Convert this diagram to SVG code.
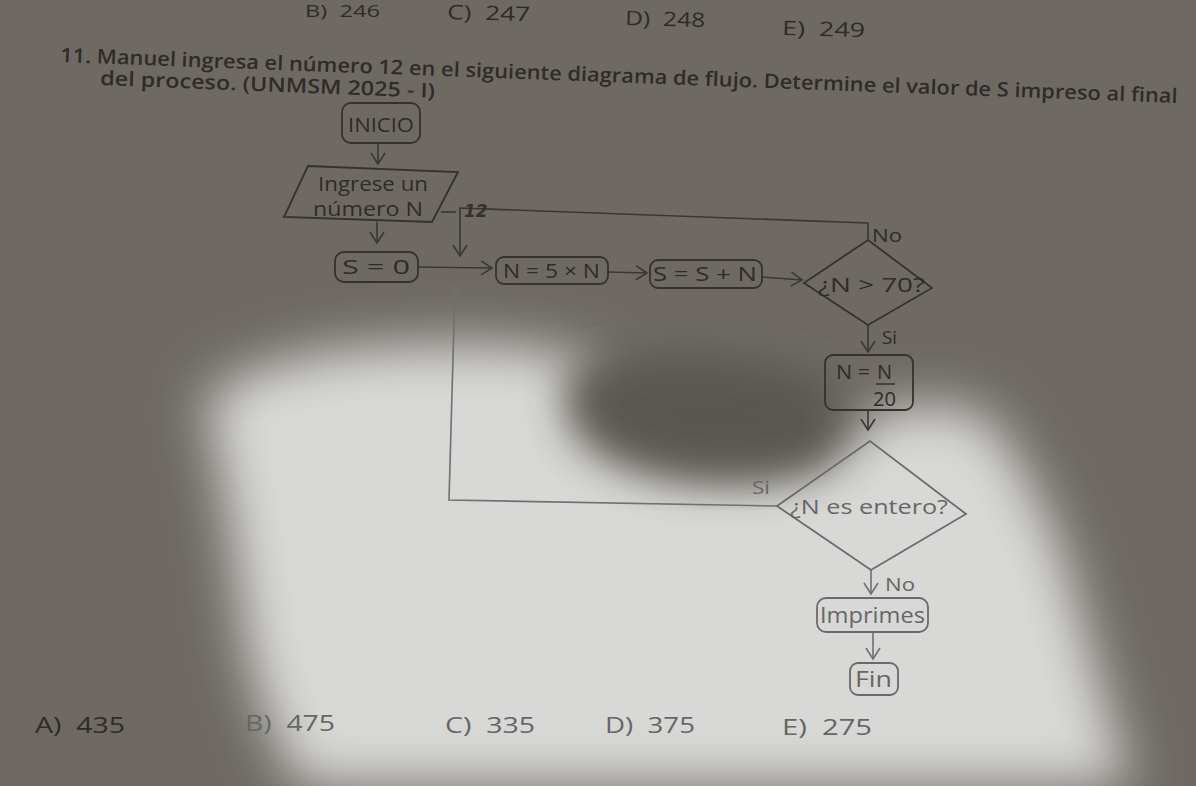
<svg xmlns="http://www.w3.org/2000/svg" width="1196" height="786" viewBox="0 0 1196 786">
<defs>
<filter id="blur" x="-20%" y="-20%" width="140%" height="140%"><feGaussianBlur stdDeviation="26"/></filter>
<filter id="blur2" x="-30%" y="-30%" width="160%" height="160%"><feGaussianBlur stdDeviation="22"/></filter>
<marker id="ah" markerWidth="16" markerHeight="16" refX="12" refY="8" orient="auto" markerUnits="userSpaceOnUse">
<path d="M1,1 L12,8 L1,15" fill="none" stroke="#3a3733" stroke-width="1.6"/>
</marker>
<marker id="ahl" markerWidth="16" markerHeight="16" refX="12" refY="8" orient="auto" markerUnits="userSpaceOnUse">
<path d="M1,1 L12,8 L1,15" fill="none" stroke="#707070" stroke-width="1.6"/>
</marker>
<style>
.t{font-family:"Open Sans","Liberation Sans",sans-serif;fill:#2e2b28;}
.tl{font-family:"Open Sans","Liberation Sans",sans-serif;fill:#666;}
.box{fill:none;stroke:#35322e;stroke-width:1.8;}
.boxl{fill:none;stroke:#6a6a6a;stroke-width:1.8;}
.ln{fill:none;stroke:#3a3733;stroke-width:1.6;}
.lnl{fill:none;stroke:#707070;stroke-width:1.6;}
</style>
</defs>
<rect width="1196" height="786" fill="#6e6a63"/>
<g filter="url(#blur)">
<path d="M205,400 Q260,350 420,345 Q540,340 600,365 L570,420 Q640,490 770,475 Q845,462 865,420 Q930,390 990,420 Q1035,480 1065,560 Q1100,680 1130,786 L300,786 Q250,700 240,600 Q225,480 205,400 Z" fill="#d8d8d6"/>
</g>
<g filter="url(#blur2)">
<path d="M575,372 Q700,340 820,378 Q865,420 815,465 Q700,490 610,450 Q555,410 575,372 Z" fill="#5a564f"/>
</g>

<g id="header">
<text class="t" x="305" y="17" font-size="17" textLength="75" lengthAdjust="spacingAndGlyphs" xml:space="preserve">B)  246</text>
<text class="t" x="447" y="19" font-size="20" textLength="83" lengthAdjust="spacingAndGlyphs" transform="rotate(1.5 447 19)" xml:space="preserve">C)  247</text>
<text class="t" x="625" y="25" font-size="20" textLength="80" lengthAdjust="spacingAndGlyphs" transform="rotate(1.5 625 25)" xml:space="preserve">D)  248</text>
<text class="t" x="782" y="35" font-size="20" textLength="83" lengthAdjust="spacingAndGlyphs" transform="rotate(1.5 782 35)" xml:space="preserve">E)  249</text>
<text class="t" x="60" y="62" font-size="20" font-weight="600" textLength="1118" lengthAdjust="spacingAndGlyphs" transform="rotate(2.1 60 62)">11. Manuel ingresa el número 12 en el siguiente diagrama de flujo. Determine el valor de S impreso al final</text>
<text class="t" x="100" y="85" font-size="20" font-weight="600" textLength="335" lengthAdjust="spacingAndGlyphs" transform="rotate(2.2 100 85)">del proceso. (UNMSM 2025 - I)</text>
</g>

<g id="connectors">
<line class="ln" x1="378" y1="143" x2="378" y2="164" marker-end="url(#ah)"/>
<line class="ln" x1="377" y1="222" x2="377" y2="243" marker-end="url(#ah)"/>
<line class="ln" x1="418" y1="267" x2="492" y2="268" marker-end="url(#ah)"/>
<line class="ln" x1="608" y1="272" x2="647" y2="273" marker-end="url(#ah)"/>
<line class="ln" x1="762" y1="277" x2="802" y2="280" marker-end="url(#ah)"/>
<polyline class="ln" points="868,240 868,223 460,208 460,256" marker-end="url(#ah)"/>
<line class="ln" x1="441" y1="212" x2="456" y2="212"/>
<line class="ln" x1="868" y1="325" x2="868" y2="352" marker-end="url(#ah)"/>
<line class="ln" x1="868" y1="410" x2="868" y2="430" marker-end="url(#ah)"/>
<polyline class="lnl" points="777,506 449,500 455,287" marker-end="url(#ahl)"/>
<line class="lnl" x1="871" y1="570" x2="871" y2="594" marker-end="url(#ahl)"/>
<line class="lnl" x1="873" y1="632" x2="873" y2="659" marker-end="url(#ahl)"/>
<text class="t" x="872" y="242" font-size="19" textLength="30" lengthAdjust="spacingAndGlyphs">No</text>
<text class="t" x="882" y="344" font-size="19" textLength="15" lengthAdjust="spacingAndGlyphs">Si</text>
<text class="tl" x="752" y="494" font-size="19" textLength="18" lengthAdjust="spacingAndGlyphs">Si</text>
<text class="tl" x="885" y="591" font-size="19" textLength="30" lengthAdjust="spacingAndGlyphs">No</text>
<text x="464" y="217" font-size="17" font-family="'DejaVu Sans',sans-serif" fill="#34312d" font-style="italic" font-weight="bold">12</text>
</g>

<g id="inicio">
<rect class="box" x="342" y="103" width="78" height="40" rx="9"/>
<text class="t" x="348" y="132" font-size="20" textLength="66" lengthAdjust="spacingAndGlyphs">INICIO</text>
</g>
<g id="ingrese">
<polygon class="box" points="308,166 458,172 432,222 284,217"/>
<text class="t" x="318" y="191" font-size="20" textLength="110" lengthAdjust="spacingAndGlyphs">Ingrese un</text>
<text class="t" x="313" y="216" font-size="20" textLength="110" lengthAdjust="spacingAndGlyphs">número N</text>
</g>
<g id="s0">
<rect class="box" x="335" y="252" width="83" height="30" rx="9"/>
<text class="t" x="342" y="274" font-size="20" textLength="68" lengthAdjust="spacingAndGlyphs" xml:space="preserve">S = 0</text>
</g>
<g id="n5n">
<rect class="box" x="496" y="257" width="112" height="27" rx="8"/>
<text class="t" x="503" y="278" font-size="20" textLength="97" lengthAdjust="spacingAndGlyphs">N = 5 × N</text>
</g>
<g id="ssn">
<rect class="box" x="650" y="260" width="112" height="28" rx="8"/>
<text class="t" x="653" y="281" font-size="20" textLength="104" lengthAdjust="spacingAndGlyphs">S = S + N</text>
</g>
<g id="n70">
<polygon class="box" points="804,283 868,240 932,288 868,325"/>
<text class="t" x="818" y="292" font-size="20" textLength="107" lengthAdjust="spacingAndGlyphs">¿N &gt; 70?</text>
</g>
<g id="n20">
<rect class="box" x="825" y="355" width="88" height="55" rx="8"/>
<text class="t" x="836" y="379" font-size="20" textLength="34" lengthAdjust="spacingAndGlyphs">N =</text>
<text class="t" x="877" y="379" font-size="20">N</text>
<line class="ln" x1="876" y1="384" x2="895" y2="384"/>
<text class="t" x="873" y="406" font-size="20">20</text>
</g>
<g id="entero">
<polygon class="boxl" points="777,506 870,441 966,514 871,570"/>
<text class="tl" x="790" y="514" font-size="20" textLength="158" lengthAdjust="spacingAndGlyphs">¿N es entero?</text>
</g>
<g id="imprimes">
<rect class="boxl" x="817" y="598" width="111" height="34" rx="9"/>
<text class="tl" x="820" y="623" font-size="21" textLength="105" lengthAdjust="spacingAndGlyphs">Imprimes</text>
</g>
<g id="fin">
<rect class="boxl" x="850" y="663" width="48" height="32" rx="8"/>
<text class="tl" x="855" y="687" font-size="21" textLength="37" lengthAdjust="spacingAndGlyphs">Fin</text>
</g>

<g id="options">
<text class="t" x="35" y="733" font-size="21" textLength="90" lengthAdjust="spacingAndGlyphs" xml:space="preserve">A)  435</text>
<text class="tl" x="245" y="731" font-size="21" textLength="90" lengthAdjust="spacingAndGlyphs" xml:space="preserve">B)  475</text>
<text class="tl" x="445" y="733" font-size="21" textLength="90" lengthAdjust="spacingAndGlyphs" xml:space="preserve">C)  335</text>
<text class="tl" x="605" y="733" font-size="21" textLength="90" lengthAdjust="spacingAndGlyphs" xml:space="preserve">D)  375</text>
<text class="tl" x="782" y="735" font-size="21" textLength="90" lengthAdjust="spacingAndGlyphs" xml:space="preserve">E)  275</text>
</g>
</svg>
